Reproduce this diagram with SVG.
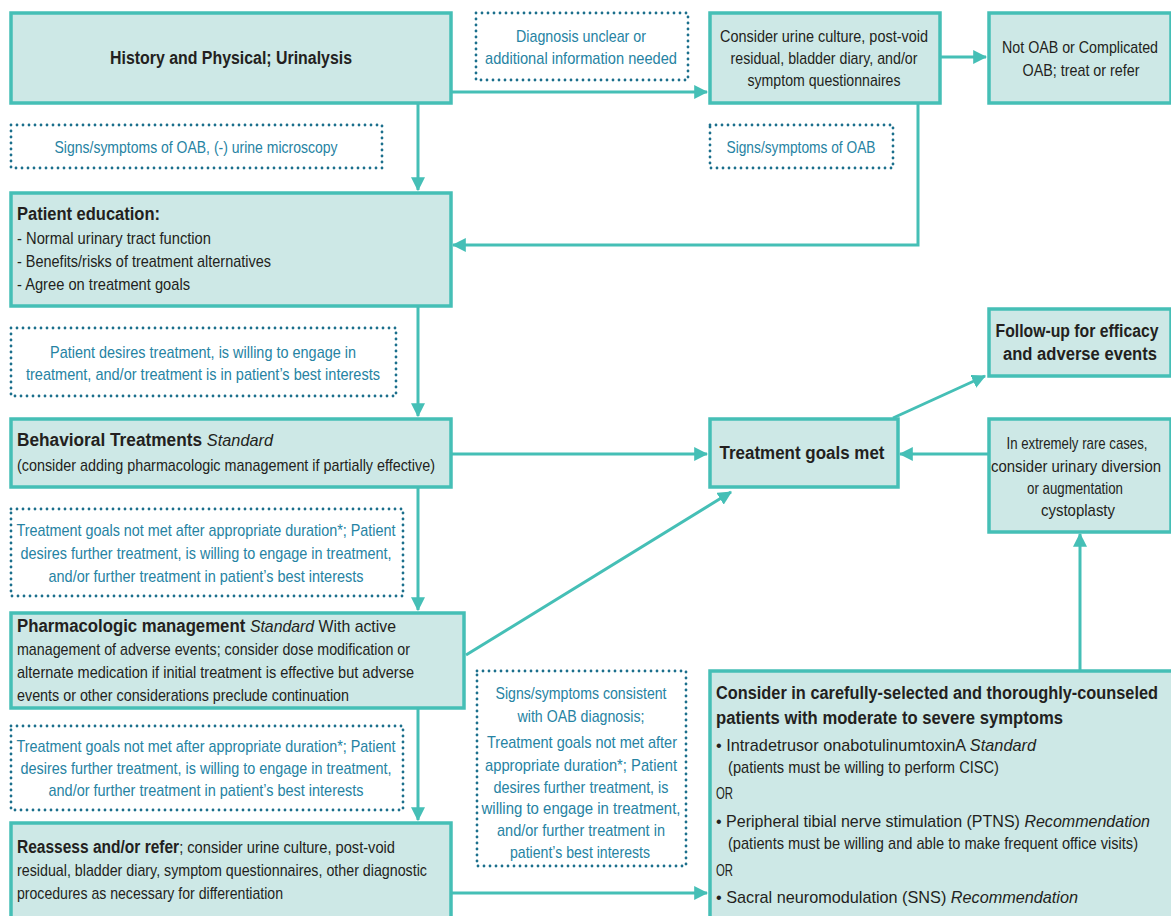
<svg xmlns="http://www.w3.org/2000/svg" width="1171" height="916" viewBox="0 0 1171 916">
<defs>
<style>
.box{fill:#cde8e6;stroke:#45bfb6;stroke-width:3.5}
.dot{fill:#fff;stroke:#1b6f8c;stroke-width:2.8;stroke-dasharray:0 6;stroke-linecap:round}
.t{font-family:"Liberation Sans",Arial,sans-serif;font-size:17px;fill:#231f20}
.d{font-family:"Liberation Sans",Arial,sans-serif;font-size:17px;fill:#2683a3}
.c{text-anchor:middle}
.b{font-weight:bold;font-size:18px}
.i{font-style:italic}
.con{fill:none;stroke:#45bfb6;stroke-width:3}
</style>
<marker id="ah" viewBox="0 0 12 12" refX="11" refY="6" markerWidth="14" markerHeight="14" markerUnits="userSpaceOnUse" orient="auto">
<path d="M0,0 L12,6 L0,12 Z" fill="#45bfb6"/>
</marker>
</defs>
<rect width="1171" height="916" fill="#fff"/>

<g id="connectors">
<path class="con" d="M418,103 V190" marker-end="url(#ah)"/>
<path class="con" d="M451,92 H707" marker-end="url(#ah)"/>
<path class="con" d="M940,57 H986" marker-end="url(#ah)"/>
<path class="con" d="M918,103 V245 H453" marker-end="url(#ah)"/>
<path class="con" d="M418,306 V416" marker-end="url(#ah)"/>
<path class="con" d="M451,454 H707" marker-end="url(#ah)"/>
<path class="con" d="M418,487 V610" marker-end="url(#ah)"/>
<path class="con" d="M418,708 V820" marker-end="url(#ah)"/>
<path class="con" d="M466,655 L731,492" marker-end="url(#ah)"/>
<path class="con" d="M451,893 H707" marker-end="url(#ah)"/>
<path class="con" d="M1080,670 V534" marker-end="url(#ah)"/>
<path class="con" d="M988,454 H900" marker-end="url(#ah)"/>
<path class="con" d="M893,418 L985,376" marker-end="url(#ah)"/>
</g>

<g id="history">
<rect class="box" x="11" y="13" width="440" height="90"/>
<text class="t b c" x="231" y="64" textLength="242" lengthAdjust="spacingAndGlyphs">History and Physical; Urinalysis</text>
</g>

<g id="label-signs-oab-micro">
<rect class="dot" x="11" y="125" width="371" height="43"/>
<text class="d c" x="196" y="153" textLength="283" lengthAdjust="spacingAndGlyphs">Signs/symptoms of OAB, (-) urine microscopy</text>
</g>

<g id="label-diagnosis-unclear">
<rect class="dot" x="476" y="13" width="212" height="67"/>
<text class="d c" x="581" y="42" textLength="130" lengthAdjust="spacingAndGlyphs">Diagnosis unclear or</text>
<text class="d c" x="581" y="64" textLength="192" lengthAdjust="spacingAndGlyphs">additional information needed</text>
</g>

<g id="consider-urine">
<rect class="box" x="710" y="13" width="230" height="90"/>
<text class="t c" x="824" y="42" textLength="208" lengthAdjust="spacingAndGlyphs">Consider urine culture, post-void</text>
<text class="t c" x="824" y="64" textLength="187" lengthAdjust="spacingAndGlyphs">residual, bladder diary, and/or</text>
<text class="t c" x="824" y="86" textLength="153" lengthAdjust="spacingAndGlyphs">symptom questionnaires</text>
</g>

<g id="not-oab">
<rect class="box" x="989" y="13" width="182" height="90"/>
<text class="t c" x="1080" y="53" textLength="156" lengthAdjust="spacingAndGlyphs">Not OAB or Complicated</text>
<text class="t c" x="1081" y="76" textLength="117" lengthAdjust="spacingAndGlyphs">OAB; treat or refer</text>
</g>

<g id="label-signs-oab">
<rect class="dot" x="710" y="125" width="183" height="43"/>
<text class="d c" x="801" y="153" textLength="149" lengthAdjust="spacingAndGlyphs">Signs/symptoms of OAB</text>
</g>

<g id="patient-education">
<rect class="box" x="11" y="193" width="440" height="113"/>
<text class="t b" x="17" y="220" textLength="143" lengthAdjust="spacingAndGlyphs">Patient education:</text>
<text class="t" x="17" y="244" textLength="194" lengthAdjust="spacingAndGlyphs">- Normal urinary tract function</text>
<text class="t" x="17" y="267" textLength="254" lengthAdjust="spacingAndGlyphs">- Benefits/risks of treatment alternatives</text>
<text class="t" x="17" y="290" textLength="173" lengthAdjust="spacingAndGlyphs">- Agree on treatment goals</text>
</g>

<g id="label-patient-desires">
<rect class="dot" x="11" y="328" width="385" height="68"/>
<text class="d c" x="203" y="358" textLength="306" lengthAdjust="spacingAndGlyphs">Patient desires treatment, is willing to engage in</text>
<text class="d c" x="203" y="380" textLength="354" lengthAdjust="spacingAndGlyphs">treatment, and/or treatment is in patient’s best interests</text>
</g>

<g id="behavioral">
<rect class="box" x="11" y="419" width="440" height="68"/>
<text class="t" x="17" y="446" textLength="256" lengthAdjust="spacingAndGlyphs"><tspan class="b">Behavioral Treatments </tspan><tspan class="i">Standard</tspan></text>
<text class="t" x="17" y="471" textLength="418" lengthAdjust="spacingAndGlyphs">(consider adding pharmacologic management if partially effective)</text>
</g>

<g id="label-not-met-1">
<rect class="dot" x="11" y="509" width="392" height="87"/>
<text class="d c" x="206" y="536" textLength="379" lengthAdjust="spacingAndGlyphs">Treatment goals not met after appropriate duration*; Patient</text>
<text class="d c" x="206" y="559" textLength="371" lengthAdjust="spacingAndGlyphs">desires further treatment, is willing to engage in treatment,</text>
<text class="d c" x="206" y="582" textLength="315" lengthAdjust="spacingAndGlyphs">and/or further treatment in patient’s best interests</text>
</g>

<g id="pharmacologic">
<rect class="box" x="11" y="613" width="453" height="95"/>
<text class="t" x="17" y="632" textLength="379" lengthAdjust="spacingAndGlyphs"><tspan class="b">Pharmacologic management </tspan><tspan class="i">Standard</tspan> With active</text>
<text class="t" x="17" y="655" textLength="393" lengthAdjust="spacingAndGlyphs">management of adverse events; consider dose modification or</text>
<text class="t" x="17" y="678" textLength="397" lengthAdjust="spacingAndGlyphs">alternate medication if initial treatment is effective but adverse</text>
<text class="t" x="17" y="701" textLength="332" lengthAdjust="spacingAndGlyphs">events or other considerations preclude continuation</text>
</g>

<g id="label-not-met-2">
<rect class="dot" x="11" y="726" width="392" height="84"/>
<text class="d c" x="206" y="752" textLength="379" lengthAdjust="spacingAndGlyphs">Treatment goals not met after appropriate duration*; Patient</text>
<text class="d c" x="206" y="774" textLength="371" lengthAdjust="spacingAndGlyphs">desires further treatment, is willing to engage in treatment,</text>
<text class="d c" x="206" y="796" textLength="315" lengthAdjust="spacingAndGlyphs">and/or further treatment in patient’s best interests</text>
</g>

<g id="reassess">
<rect class="box" x="11" y="823" width="440" height="98"/>
<text class="t" x="17" y="853" textLength="378" lengthAdjust="spacingAndGlyphs"><tspan class="b">Reassess and/or refer</tspan>; consider urine culture, post-void</text>
<text class="t" x="17" y="876" textLength="410" lengthAdjust="spacingAndGlyphs">residual, bladder diary, symptom questionnaires, other diagnostic</text>
<text class="t" x="17" y="899" textLength="266" lengthAdjust="spacingAndGlyphs">procedures as necessary for differentiation</text>
</g>

<g id="treatment-goals-met">
<rect class="box" x="710" y="419" width="188" height="68"/>
<text class="t b c" x="802" y="459" textLength="165" lengthAdjust="spacingAndGlyphs">Treatment goals met</text>
</g>

<g id="follow-up">
<rect class="box" x="989" y="309" width="182" height="67"/>
<text class="t b c" x="1077" y="337" textLength="163" lengthAdjust="spacingAndGlyphs">Follow-up for efficacy</text>
<text class="t b c" x="1080" y="360" textLength="154" lengthAdjust="spacingAndGlyphs">and adverse events</text>
</g>

<g id="rare-cases">
<rect class="box" x="989" y="419" width="182" height="113"/>
<text class="t c" x="1077" y="449" textLength="141" lengthAdjust="spacingAndGlyphs">In extremely rare cases,</text>
<text class="t c" x="1076" y="472" textLength="170" lengthAdjust="spacingAndGlyphs">consider urinary diversion</text>
<text class="t c" x="1075" y="494" textLength="96" lengthAdjust="spacingAndGlyphs">or augmentation</text>
<text class="t c" x="1078" y="516" textLength="74" lengthAdjust="spacingAndGlyphs">cystoplasty</text>
</g>

<g id="label-consistent">
<rect class="dot" x="477" y="671" width="209" height="195"/>
<text class="d c" x="581" y="699" textLength="171" lengthAdjust="spacingAndGlyphs">Signs/symptoms consistent</text>
<text class="d c" x="581" y="722" textLength="127" lengthAdjust="spacingAndGlyphs">with OAB diagnosis;</text>
<text class="d c" x="582" y="748" textLength="190" lengthAdjust="spacingAndGlyphs">Treatment goals not met after</text>
<text class="d c" x="581" y="771" textLength="192" lengthAdjust="spacingAndGlyphs">appropriate duration*; Patient</text>
<text class="d c" x="581" y="793" textLength="175" lengthAdjust="spacingAndGlyphs">desires further treatment, is</text>
<text class="d c" x="581" y="814" textLength="199" lengthAdjust="spacingAndGlyphs">willing to engage in treatment,</text>
<text class="d c" x="581" y="836" textLength="168" lengthAdjust="spacingAndGlyphs">and/or further treatment in</text>
<text class="d c" x="580" y="858" textLength="140" lengthAdjust="spacingAndGlyphs">patient’s best interests</text>
</g>

<g id="third-line">
<rect class="box" x="710" y="671" width="465" height="250"/>
<text class="t b" x="716" y="699" textLength="442" lengthAdjust="spacingAndGlyphs">Consider in carefully-selected and thoroughly-counseled</text>
<text class="t b" x="716" y="724" textLength="347" lengthAdjust="spacingAndGlyphs">patients with moderate to severe symptoms</text>
<text class="t" x="716" y="751" textLength="320" lengthAdjust="spacingAndGlyphs">• Intradetrusor onabotulinumtoxinA <tspan class="i">Standard</tspan></text>
<text class="t" x="728" y="773" textLength="271" lengthAdjust="spacingAndGlyphs">(patients must be willing to perform CISC)</text>
<text class="t" x="716" y="799" textLength="17" lengthAdjust="spacingAndGlyphs">OR</text>
<text class="t" x="716" y="827" textLength="434" lengthAdjust="spacingAndGlyphs">• Peripheral tibial nerve stimulation (PTNS) <tspan class="i">Recommendation</tspan></text>
<text class="t" x="728" y="849" textLength="410" lengthAdjust="spacingAndGlyphs">(patients must be willing and able to make frequent office visits)</text>
<text class="t" x="716" y="876" textLength="17" lengthAdjust="spacingAndGlyphs">OR</text>
<text class="t" x="716" y="903" textLength="362" lengthAdjust="spacingAndGlyphs">• Sacral neuromodulation (SNS) <tspan class="i">Recommendation</tspan></text>
</g>
</svg>
